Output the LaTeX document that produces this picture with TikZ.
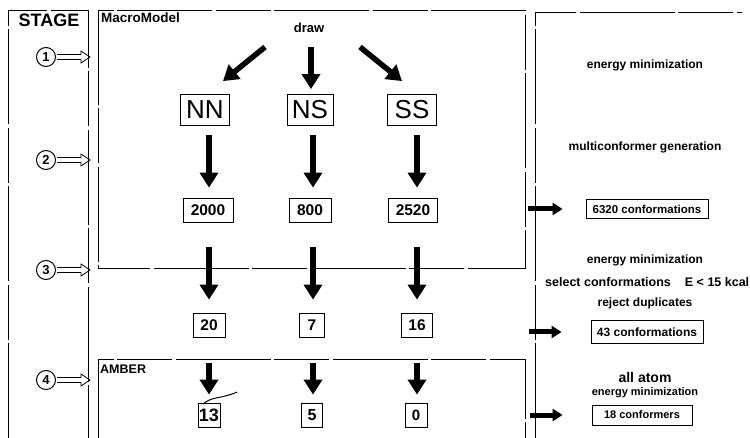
\documentclass[tikz,border=0pt]{standalone}
\usepackage{fontspec}
\setmainfont{Liberation Sans}
\usetikzlibrary{arrows.meta,calc}
\newcommand\myfs[1]{\fontsize{#1}{#1}\selectfont}
\newcommand\hollowarr[1]{\draw[line width=0.8pt] ([xshift=1pt]#1.east) ++(0,-2.5) -- ++(24,0) -- ++(0,-3.5) -- ++(9,6) -- ++(-9,6) -- ++(0,-3.5) -- ++(-24,0);}
\begin{document}
\begin{tikzpicture}[x=1pt,y=-1pt,
  frame/.style={line width=0.9pt, dash pattern=on 95pt off 3pt on 55pt off 4pt},
  bigarrow/.style={line width=5.5pt, -{Triangle[length=15pt,width=18pt]}},
  smallarrow/.style={line width=5pt, -{Triangle[length=10pt,width=12pt]}},
  stagecirc/.style={circle, draw, line width=1pt, minimum size=19pt, inner sep=0pt, font=\bfseries\myfs{13}},
  bigbox/.style={draw, line width=0.8pt, font=\myfs{26}, minimum height=31pt, inner xsep=4pt, inner ysep=0pt},
  numbox/.style={draw, line width=0.8pt, font=\bfseries\myfs{15.5}, minimum height=24pt, inner xsep=6pt, inner ysep=0pt},
  smallnum/.style={draw, line width=0.8pt, font=\bfseries\myfs{18}, minimum height=24pt, minimum width=21pt, inner xsep=1pt, inner ysep=0pt},
  rtext/.style={font=\bfseries\myfs{12}, inner sep=0pt},
  rbox/.style={draw, line width=0.8pt, font=\bfseries\myfs{11.5}, inner xsep=6pt, inner ysep=0pt},
  label/.style={font=\bfseries\myfs{13}, inner sep=0pt}
]
\useasboundingbox (0,0) rectangle (750,438);

% frames
\draw[frame] (8,438) -- (8,10) -- (88,10) -- (88,438);
\draw[frame] (98,10) rectangle (525,268);
\draw[frame] (98,438) -- (98,359) -- (525,359) -- (525,438);
\draw[frame] (535,438) -- (535,12) -- (742,12);

% stage column
\node[font=\bfseries\myfs{18}, inner sep=0pt] (stage) at (49,20) {STAGE};
\node[stagecirc] (c1) at (46,57) {1};
\node[stagecirc] (c2) at (46,160) {2};
\node[stagecirc] (c3) at (46,270) {3};
\node[stagecirc] (c4) at (46,380) {4};
\hollowarr{c1}
\hollowarr{c2}
\hollowarr{c3}
\hollowarr{c4}

% MacroModel part
\node[label, font=\bfseries\myfs{13.5}, anchor=west] (mm) at (101,18) {MacroModel};
\node[label] (draw) at (309,28) {draw};
\node[bigbox, minimum width=49pt] (NN) at (205,110) {NN};
\node[bigbox, minimum width=46pt] (NS) at (310,110) {NS};
\node[bigbox, minimum width=49pt] (SS) at (412,110) {SS};

\draw[bigarrow] ($(draw.center)+(-44,19)$) -- ($(NN.north)+(18,-13)$);
\draw[bigarrow] ($(draw.center)+(2,19)$) -- ($(NS.north)+(1,-5)$);
\draw[bigarrow] ($(draw.center)+(51,19)$) -- ($(SS.north)+(-10,-13)$);

\node[numbox, minimum width=50pt] (n2000) at (208,210) {2000};
\node[numbox, minimum width=42pt] (n800) at (310,210) {800};
\node[numbox, minimum width=49pt] (n2520) at (413,210) {2520};

\draw[bigarrow] ($(NN.south)+(4,9)$) -- ($(n2000.north)+(1,-10)$);
\draw[bigarrow] ($(NS.south)+(3,9)$) -- ($(n800.north)+(3,-10)$);
\draw[bigarrow] ($(SS.south)+(5,9)$) -- ($(n2520.north)+(4,-10)$);

\node[numbox, minimum width=32pt] (n20) at (209,325) {20};
\node[numbox, minimum width=25pt] (n7) at (312,325) {7};
\node[numbox, minimum width=31pt] (n16) at (417,325) {16};

\draw[bigarrow] ($(n2000.south)+(1,25)$) -- ($(n20.north)+(0,-13)$);
\draw[bigarrow] ($(n800.south)+(3,25)$) -- ($(n7.north)+(1,-13)$);
\draw[bigarrow] ($(n2520.south)+(4,25)$) -- ($(n16.north)+(0,-13)$);

% AMBER part
\node[label, font=\bfseries\myfs{12.5}, anchor=west] (amber) at (100,369) {AMBER};
\node[smallnum, minimum width=22pt] (n13) at (209,415) {13};
\node[smallnum, font=\bfseries\myfs{16}] (n5) at (312,415) {5};
\node[smallnum, minimum width=22pt, font=\bfseries\myfs{15}] (n0) at (416,415) {0};

\draw[bigarrow] ($(n20.south)+(0,26)$) -- ($(n13.north)+(0,-8)$);
\draw[bigarrow] ($(n7.south)+(1,26)$) -- ($(n5.north)+(1,-8)$);
\draw[bigarrow] ($(n16.south)+(0,26)$) -- ($(n0.north)+(1,-8)$);
\draw[line width=1pt] (203,404) .. controls (212,396) and (222,399) .. (237,392);

% right panel
\node[rtext] (t1) at (645,65) {energy minimization};
\node[rtext] (t2) at (645,147) {multiconformer generation};
\node[rbox, minimum width=122pt, minimum height=19pt] (b1) at (647,209) {6320 conformations};
\draw[smallarrow] ($(b1.west)+(-58,0)$) -- ($(b1.west)+(-23,0)$);

\node[rtext] (t3) at (645,260) {energy minimization};
\node[rtext, font=\bfseries\myfs{12.5}, anchor=west] (t4) at (545,282) {select conformations\hspace{14pt}E < 15 kcal};
\node[rtext] (t5) at (645,303) {reject duplicates};
\node[rbox, font=\bfseries\myfs{12}, minimum width=110pt, minimum height=23pt] (b2) at (647,332) {43 conformations};
\draw[smallarrow] ($(b2.west)+(-62,0)$) -- ($(b2.west)+(-29,0)$);

\node[rtext, font=\bfseries\myfs{14}] (t6) at (645,377) {all atom};
\node[rtext, font=\bfseries\myfs{11}] (t7) at (645,393) {energy minimization};
\node[rbox, font=\bfseries\myfs{11}, minimum width=100pt, minimum height=20pt] (b3) at (642,415) {18 conformers};
\draw[smallarrow] ($(b3.west)+(-62,0)$) -- ($(b3.west)+(-29,0)$);
\end{tikzpicture}
\end{document}
